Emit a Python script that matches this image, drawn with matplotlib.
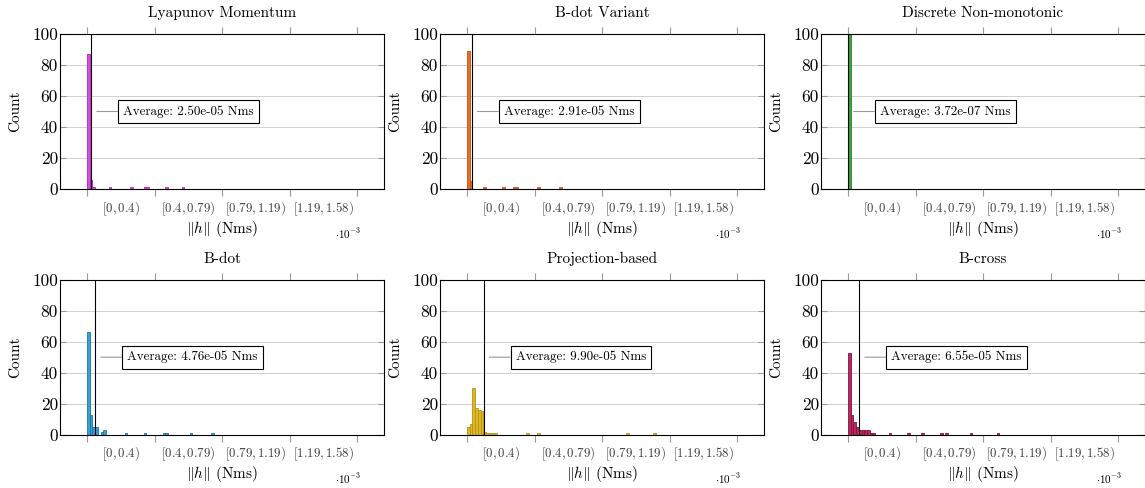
import numpy as np
import matplotlib
matplotlib.use("Agg")
import matplotlib.pyplot as plt

plt.rcParams["font.family"] = "serif"
plt.rcParams["font.serif"] = ["cmr10"]
plt.rcParams["mathtext.fontset"] = "cm"
plt.rcParams["axes.unicode_minus"] = False

titles = ["Lyapunov Momentum", "B-dot Variant", "Discrete Non-monotonic",
          "B-dot", "Projection-based", "B-cross"]
face_colors = ["#d64fe3", "#e36e2c", "#3aa63a", "#3a9fd0", "#dcb72a", "#b42a5e"]
edge_colors = ["#b81ec8", "#c8500f", "#1f8a1f", "#1577a8", "#b8940a", "#8c0c40"]
averages = [2.50e-05, 2.91e-05, 3.72e-07, 4.76e-05, 9.90e-05, 6.55e-05]

n_bins = 100
h_max = 1.584e-3

# non-empty bins (bin index, count)
lyap_bins = [0, 1, 2, 8, 16, 21, 22, 29, 35]
lyap_counts = [87, 6, 1, 1, 1, 1, 1, 1, 1]

bdotvar_bins = [0, 1, 6, 13, 17, 18, 26, 34]
bdotvar_counts = [89, 5, 1, 1, 1, 1, 1, 1]

discrete_bins = [0]
discrete_counts = [100]

bdot_bins = [0, 1, 2, 3, 5, 6, 14, 21, 28, 29, 38, 46]
bdot_counts = [66, 13, 5, 5, 2, 3, 1, 1, 1, 1, 1, 1]

proj_bins = [0, 1, 2, 3, 4, 5, 6, 7, 8, 9, 10, 22, 26, 59, 69]
proj_counts = [5, 7, 30, 17, 16, 15, 2, 1, 1, 1, 1, 1, 1, 1, 1]

bcross_bins = [0, 1, 2, 3, 4, 5, 6, 7, 8, 9, 15, 22, 27, 34, 36, 45, 55]
bcross_counts = [53, 13, 8, 5, 3, 3, 3, 3, 1, 1, 1, 1, 1, 1, 1, 1, 1]

all_bins = [lyap_bins, bdotvar_bins, discrete_bins, bdot_bins, proj_bins, bcross_bins]
all_counts = [lyap_counts, bdotvar_counts, discrete_counts, bdot_counts, proj_counts, bcross_counts]

interval_edges = [0, 0.396e-3, 0.792e-3, 1.188e-3, 1.584e-3]
interval_labels = ["$[0, 0.4)$", "$[0.4, 0.79)$", "$[0.79, 1.19)$", "$[1.19, 1.58)$"]


def draw_hist(ax, i):
    counts = np.zeros(n_bins)
    counts[all_bins[i]] = all_counts[i]
    width = h_max / n_bins
    left = np.arange(n_bins) * width
    ax.bar(left, counts, width=width, align="edge", color=face_colors[i],
           edgecolor=edge_colors[i], linewidth=0.6, zorder=2)

    ax.set_xlim(-0.1 * h_max, 1.1 * h_max)
    ax.set_ylim(0, 100)
    ax.set_yticks([0, 20, 40, 60, 80, 100])
    ax.grid(axis="y", color="#d0d0d0", linewidth=0.7, zorder=0)
    ax.set_axisbelow(True)

    ax.set_xticks(interval_edges)
    ax.set_xticklabels([])
    mids = [(interval_edges[k] + interval_edges[k + 1]) / 2 for k in range(4)]
    ax.set_xticks(mids, minor=True)
    ax.set_xticklabels(interval_labels, minor=True, fontsize=9.3, color="#404040")
    ax.tick_params(axis="x", which="major", direction="out", length=5,
                   color="#999999", top=True)
    ax.tick_params(axis="x", which="minor", length=0, pad=8)
    ax.tick_params(axis="y", direction="in", length=4, color="#999999",
                   right=True, labelsize=12.5, pad=1.5)

    for s in ax.spines.values():
        s.set_linewidth(0.8)

    avg = averages[i]
    ax.axvline(avg, color="black", linewidth=0.8, zorder=3)
    ax.annotate("Average: %.2e Nms" % avg, xy=(avg, 50), xytext=(23, 0),
                textcoords="offset points", ha="left", va="center", fontsize=9.4,
                bbox=dict(boxstyle="square,pad=0.4", fc="white", ec="black", lw=0.8),
                arrowprops=dict(arrowstyle="-", color="#999999", lw=0.8,
                                shrinkA=0, shrinkB=4),
                zorder=4)

    ax.set_title(titles[i], fontsize=11, pad=10, va="bottom")
    ax.text(-0.139, 0.5, "Count", transform=ax.transAxes, rotation=90,
            ha="center", va="center", fontsize=11)
    ax.text(0.5, -0.255, r"$\|h\|$ (Nms)", transform=ax.transAxes,
            ha="center", va="center", fontsize=11)
    ax.text(0.889, -0.285, r"$\cdot 10^{-3}$", transform=ax.transAxes,
            ha="center", va="center", fontsize=8)


fig = plt.figure(figsize=(11.45, 4.88), dpi=100)
lefts = [60, 440, 821]
bottoms = [189, 434.7]
for i in range(6):
    r, c = divmod(i, 3)
    ax = fig.add_axes([lefts[c] / 1145, (488 - bottoms[r]) / 488, 324 / 1145, 155 / 488])
    draw_hist(ax, i)

fig.savefig("out.png", dpi=100)
